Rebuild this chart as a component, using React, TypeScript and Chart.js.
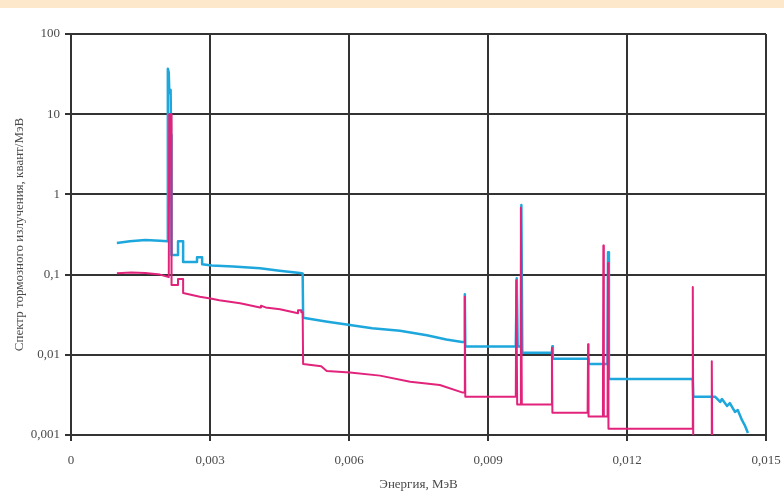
import React, { useEffect, useRef } from "react";
import { Chart, registerables } from "chart.js";

Chart.register(...registerables);

// Energy, MeV (x) and spectrum, quanta/MeV (y)
const magentaEnergy = [
  0.00099, 0.0013, 0.0016, 0.00192, 0.00211, 0.00212, 0.00216, 0.00217, 0.00231, 0.00231,
  0.00242, 0.00242, 0.00278, 0.00304, 0.0032, 0.00365, 0.00408, 0.0041, 0.0042, 0.00451,
  0.0049, 0.0049, 0.00497, 0.00497, 0.005, 0.00501, 0.0054, 0.00552, 0.00602, 0.00667,
  0.00732, 0.00796, 0.00844, 0.00849, 0.0085, 0.00851, 0.0096, 0.00961, 0.00963, 0.0097,
  0.00971, 0.00973, 0.01037, 0.01038, 0.01039, 0.01115, 0.01116, 0.01117, 0.01148, 0.01149,
  0.0115, 0.01158, 0.01159, 0.0116, 0.01341, 0.01342, 0.01343, 0.01382, 0.01383, 0.01384,
];
const magentaSpectrum = [
  0.104, 0.106, 0.105, 0.1, 0.093, 10, 10, 0.074, 0.074, 0.088,
  0.088, 0.059, 0.053, 0.05, 0.048, 0.044, 0.039, 0.041, 0.039, 0.037,
  0.033, 0.036, 0.036, 0.034, 0.034, 0.0077, 0.0072, 0.0063, 0.006, 0.0055,
  0.0046, 0.0042, 0.0034, 0.0034, 0.053, 0.003, 0.003, 0.085, 0.0024, 0.0024,
  0.68, 0.0024, 0.0024, 0.0122, 0.0019, 0.0019, 0.0135, 0.0017, 0.0017, 0.23,
  0.0017, 0.0017, 0.14, 0.0012, 0.0012, 0.07, 0.0008, 0.0008, 0.0083, 0.0008,
];

const blueEnergy = [
  0.00099, 0.00127, 0.0016, 0.00192, 0.00208, 0.00209, 0.00211, 0.00212, 0.00214, 0.00215,
  0.00216, 0.00217, 0.00231, 0.00231, 0.00242, 0.00242, 0.00272, 0.00272, 0.00283, 0.00283,
  0.00304, 0.0035, 0.00408, 0.0045, 0.00494, 0.005, 0.00501, 0.0055, 0.00602, 0.0065,
  0.0071, 0.00768, 0.0081, 0.00844, 0.00849, 0.0085, 0.00851, 0.0096, 0.00962, 0.00964,
  0.00971, 0.00972, 0.00974, 0.01038, 0.01039, 0.0104, 0.01116, 0.01117, 0.01158, 0.01159,
  0.01161, 0.01342, 0.01343, 0.0139, 0.01401, 0.01405, 0.01416, 0.01422, 0.01433, 0.01439,
  0.01448, 0.01454, 0.01461,
];
const blueSpectrum = [
  0.248, 0.26, 0.27, 0.265, 0.26, 37, 33, 20, 18, 20,
  5.5, 0.175, 0.175, 0.26, 0.26, 0.144, 0.144, 0.165, 0.165, 0.135,
  0.13, 0.126, 0.12, 0.112, 0.105, 0.103, 0.029, 0.026, 0.0235, 0.0215,
  0.02, 0.0175, 0.0155, 0.0144, 0.0144, 0.057, 0.0127, 0.0127, 0.09, 0.0127,
  0.0127, 0.74, 0.0106, 0.0106, 0.0128, 0.0089, 0.0089, 0.0077, 0.0077, 0.19,
  0.005, 0.005, 0.003, 0.003, 0.00258, 0.00281, 0.0023, 0.0025, 0.00194, 0.00205,
  0.00154, 0.00133, 0.00106,
];

const yTicks = [0.001, 0.01, 0.1, 1, 10, 100];
const yTickLabels = ["0,001", "0,01", "0,1", "1", "10", "100"];
const xTicks = [0, 0.003, 0.006, 0.009, 0.012, 0.015];
const xTickLabels = ["0", "0,003", "0,006", "0,009", "0,012", "0,015"];

const FONT = "'Liberation Serif', 'DejaVu Serif', serif";

const backgroundPlugin = {
  id: "bg",
  beforeDraw(chart: any) {
    const { ctx, width, height } = chart;
    ctx.save();
    ctx.fillStyle = "#ffffff";
    ctx.fillRect(0, 0, width, height);
    ctx.fillStyle = "#fde8cb";
    ctx.fillRect(0, 0, width, 8);
    ctx.restore();
  },
};

export default function App() {
  const ref = useRef<HTMLCanvasElement | null>(null);
  useEffect(() => {
    if (!ref.current) return;
    const zip = (xs: number[], ys: number[]) => xs.map((x, i) => ({ x, y: ys[i] }));
    const chart = new Chart(ref.current, {
      type: "line",
      data: {
        datasets: [
          {
            data: zip(magentaEnergy, magentaSpectrum),
            borderColor: "#e2237b",
            borderWidth: 2,
            pointRadius: 0,
            tension: 0,
            borderJoinStyle: "round",
          },
          {
            data: zip(blueEnergy, blueSpectrum),
            borderColor: "#1ea7dc",
            borderWidth: 2.5,
            pointRadius: 0,
            tension: 0,
            borderJoinStyle: "round",
          },
        ],
      },
      options: {
        responsive: false,
        animation: false,
        parsing: true,
        layout: { padding: { top: 34, right: 18, left: 0, bottom: 0 } },
        plugins: { legend: { display: false }, tooltip: { enabled: false } },
        scales: {
          x: {
            type: "linear",
            min: 0,
            max: 0.015,
            afterBuildTicks: (s: any) => {
              s.ticks = xTicks.map((v) => ({ value: v }));
            },
            afterFit: (s: any) => {
              s.height = 64;
              s.paddingLeft = 0;
              s.paddingRight = 0;
            },
            ticks: {
              callback: (v: any) => {
                const i = xTicks.findIndex((t) => Math.abs(t - v) < 1e-9);
                return i >= 0 ? xTickLabels[i] : "";
              },
              font: { family: FONT, size: 13 },
              color: "#4a4a4a",
              padding: 12,
              maxRotation: 0,
              autoSkip: false,
            },
            grid: { color: "#333", lineWidth: 2, tickLength: 6, drawTicks: true },
            border: { color: "#333", width: 2 },
            title: {
              display: true,
              text: "Энергия, МэВ",
              font: { family: FONT, size: 13 },
              color: "#4a4a4a",
              padding: { top: 0, bottom: 7 },
            },
          },
          y: {
            type: "logarithmic",
            min: 0.001,
            max: 100,
            afterBuildTicks: (s: any) => {
              s.ticks = yTicks.map((v) => ({ value: v }));
            },
            afterFit: (s: any) => {
              s.width = 71;
              s.paddingTop = 0;
              s.paddingBottom = 0;
            },
            ticks: {
              callback: (v: any) => {
                const i = yTicks.findIndex((t) => Math.abs(t - v) / t < 1e-6);
                return i >= 0 ? yTickLabels[i] : "";
              },
              font: { family: FONT, size: 13 },
              color: "#4a4a4a",
              padding: 5,
              autoSkip: false,
            },
            grid: { color: "#333", lineWidth: 2, tickLength: 6, drawTicks: true },
            border: { color: "#333", width: 2 },
            title: {
              display: true,
              text: "Спектр тормозного излучения, квант/МэВ",
              font: { family: FONT, size: 13 },
              color: "#4a4a4a",
              padding: { top: 12, bottom: 0 },
            },
          },
        },
      },
      plugins: [backgroundPlugin],
    } as any);
    return () => chart.destroy();
  }, []);
  return (
    <div style={{ position: "absolute", left: 0, top: 0, width: 784, height: 499 }}>
      <canvas ref={ref} width={784} height={499} />
    </div>
  );
}
